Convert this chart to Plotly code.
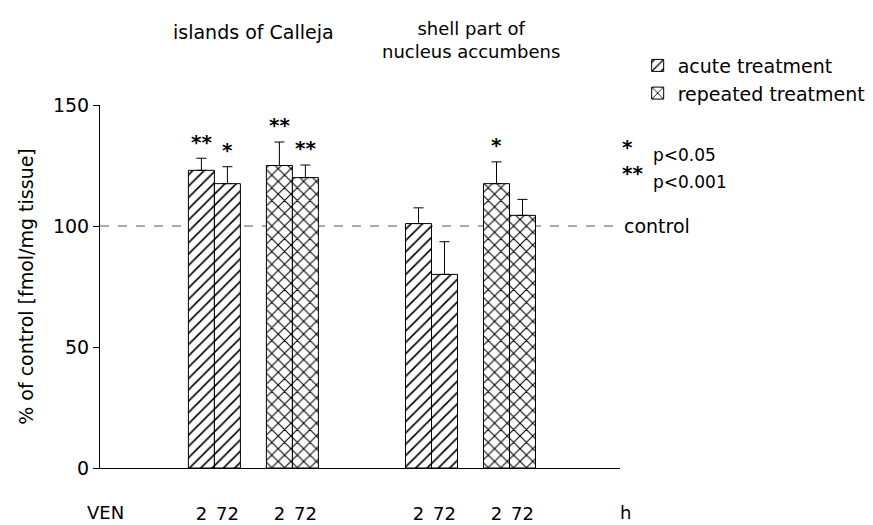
import plotly.graph_objects as go

# ---------------- data ----------------
regions = ["islands of Calleja", "shell part of<br>nucleus accumbens"]
times = ["2", "72"]
acute_mean = [123.0, 117.5, 101.0, 80.0]
acute_sem = [5.0, 7.0, 6.5, 13.5]
repeated_mean = [125.0, 120.0, 117.5, 104.4]
repeated_sem = [9.7, 5.2, 9.0, 6.6]
acute_sig = ["**", "*", "", ""]
repeated_sig = ["**", "**", "*", ""]
y_ticks = [0, 50, 100, 150]
control_level = 100

# ---------------- layout helpers ----------------
FONT = "DejaVu Sans"
FS = 19
BLACK = "black"
group_start = [3.4, 11.75]          # left edge of each region's bar block
acute_x = [g + o for g in group_start for o in (0.5, 1.5)]
repeated_x = [g + o for g in group_start for o in (3.5, 4.5)]

fig = go.Figure()

fig.add_trace(go.Bar(
    name="acute treatment", x=acute_x, y=acute_mean, width=1.0,
    marker=dict(color="white", line=dict(color=BLACK, width=1),
                pattern=dict(shape="/", fgcolor=BLACK, bgcolor="white",
                             size=8, solidity=0.2)),
    error_y=dict(type="data", array=acute_sem, arrayminus=[0] * 4,
                 symmetric=False, color=BLACK, thickness=1, width=5),
))
fig.add_trace(go.Bar(
    name="repeated treatment", x=repeated_x, y=repeated_mean, width=1.0,
    marker=dict(color="white", line=dict(color=BLACK, width=1),
                pattern=dict(shape="x", fgcolor=BLACK, bgcolor="white",
                             size=9, solidity=0.22)),
    error_y=dict(type="data", array=repeated_sem, arrayminus=[0] * 4,
                 symmetric=False, color=BLACK, thickness=1, width=5),
))

# control line
fig.add_shape(type="line", xref="x", yref="y", x0=0, x1=20,
              y0=control_level, y1=control_level, layer="below",
              line=dict(color="#555555", width=1, dash="dash"))

ann = []
# significance stars
for xs, ms, ss, sig in ((acute_x, acute_mean, acute_sem, acute_sig),
                        (repeated_x, repeated_mean, repeated_sem, repeated_sig)):
    for x, m, s, t in zip(xs, ms, ss, sig):
        if t:
            ann.append(dict(x=x, y=m + s + 8.5, text="<b>" + t + "</b>", showarrow=False,
                            yshift=-4, font=dict(size=20, family=FONT, color=BLACK)))

# region titles
ann.append(dict(x=(acute_x[0] + repeated_x[1]) / 2, y=1.201, yref="paper",
                yanchor="middle", xanchor="center",
                text=regions[0], showarrow=False, font=dict(size=FS, family=FONT, color=BLACK)))
ann.append(dict(x=(acute_x[2] + repeated_x[3]) / 2, y=1.18, yref="paper",
                yanchor="middle", xanchor="center",
                text=regions[1], showarrow=False,
                font=dict(size=FS - 1, family=FONT, color=BLACK)))

# control label
ann.append(dict(x=20, y=control_level, text="control", xanchor="left", xshift=2,
                showarrow=False, font=dict(size=FS, family=FONT, color=BLACK)))

# p-value key
ann.append(dict(x=20, y=132.5, text="<b>*</b>", xanchor="left", showarrow=False,
                font=dict(size=20, family=FONT, color=BLACK)))
ann.append(dict(x=20, y=129.3, text="p<0.05", xanchor="left", xshift=31,
                showarrow=False, font=dict(size=FS - 2, family=FONT, color=BLACK)))
ann.append(dict(x=20, y=122.0, text="<b>**</b>", xanchor="left", showarrow=False,
                font=dict(size=20, family=FONT, color=BLACK)))
ann.append(dict(x=20, y=118.2, text="p<0.001", xanchor="left", xshift=31,
                showarrow=False, font=dict(size=FS - 2, family=FONT, color=BLACK)))

# VEN / h labels on the tick-label row
ann.append(dict(x=0.0106, xref="paper", y=0, text="VEN", yshift=-44, showarrow=False,
                xanchor="center", yanchor="middle",
                font=dict(size=FS - 1, family=FONT, color=BLACK)))
ann.append(dict(x=1.0115, xref="paper", y=0, text="h", yshift=-44, showarrow=False,
                xanchor="center", yanchor="middle",
                font=dict(size=FS - 1, family=FONT, color=BLACK)))

tick_x = sorted(acute_x + repeated_x)
tick_t = times * 4

fig.update_layout(
    template="none",
    width=865, height=517,
    margin=dict(l=92, r=253, t=97, b=57, autoexpand=False),
    paper_bgcolor="white", plot_bgcolor="white",
    barmode="overlay",
    font=dict(family=FONT, size=FS, color=BLACK),
    showlegend=True,
    legend=dict(x=1.034, y=1.161, xanchor="left", yanchor="top",
                font=dict(size=FS, family=FONT, color=BLACK), tracegroupgap=0,
                bgcolor="rgba(0,0,0,0)", borderwidth=0),
    annotations=ann,
    xaxis=dict(range=[0, 20], showline=True, linecolor=BLACK, linewidth=1,
               showgrid=False, zeroline=False, ticks="", automargin=False,
               tickvals=tick_x, ticktext=tick_t, ticklabelstandoff=29,
               tickfont=dict(size=FS - 1, family=FONT, color=BLACK)),
    yaxis=dict(range=[0, 150], showline=True, linecolor=BLACK, linewidth=1,
               showgrid=False, zeroline=False, ticks="outside", ticklen=6,
               tickcolor=BLACK, tickvals=y_ticks, automargin=False,
               tickfont=dict(size=FS, family=FONT, color=BLACK),
               title=dict(text="% of control [fmol/mg tissue]", standoff=14,
                          font=dict(size=FS, family=FONT, color=BLACK))),
)

fig.write_html("out.html")
